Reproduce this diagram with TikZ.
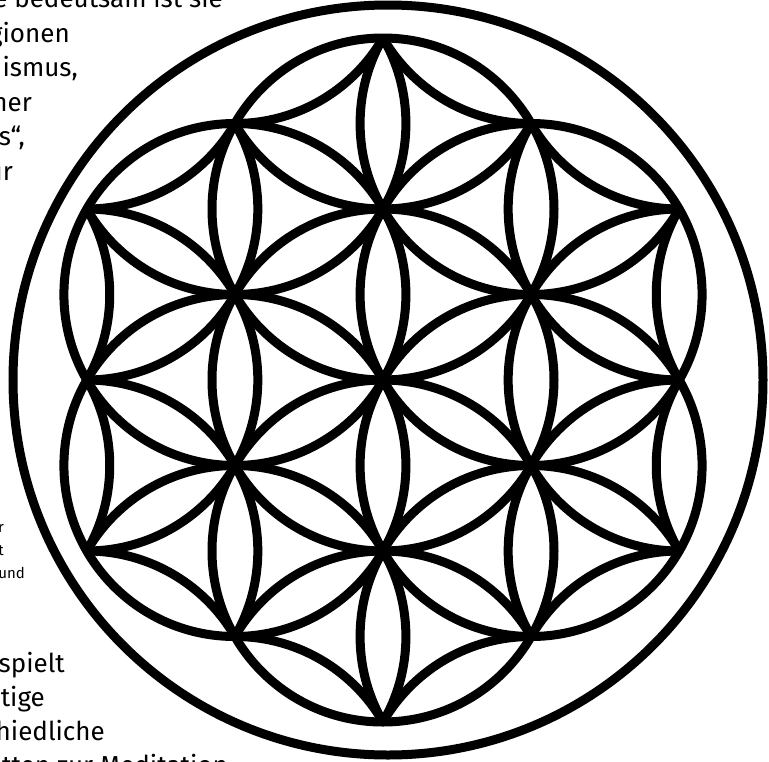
\documentclass[tikz,border=0pt]{standalone}
\usepackage{fontspec}
\setmainfont{Fira Sans}
\tikzset{
  petal/.style={line width=9pt, black},
  ring/.style={line width=9pt, black},
  bodytext/.style={inner sep=0pt, font=\fontsize{26}{32}\selectfont, anchor=base east},
  smalltext/.style={inner sep=0pt, font=\fontsize{15}{18}\selectfont, anchor=base east},
}
\begin{document}
\begin{tikzpicture}[x=1pt, y=-1pt]
  \useasboundingbox (0,0) rectangle (769,761);
  \clip (0,0) rectangle (769,761);
  % text around the picture
  \node[bodytext] (l0) at (223,7.5) {e bedeutsam ist sie};
  \node[bodytext] (l1) at (70,42) {gionen};
  \node[bodytext] (l2) at (78,76.5) {uismus,};
  \node[bodytext] (l3) at (32,111) {ner};
  \node[bodytext] (l4) at (25,145.5) {s“,};
  \node[bodytext] (l5) at (13,180) {ur};
  \node[smalltext] (s1) at (4,532) {r};
  \node[smalltext] (s2) at (4,555) {t};
  \node[smalltext] (s3) at (25,578) {und};
  \node[bodytext] (l6) at (65,672) {spielt};
  \node[bodytext] (l7) at (45,706) {tige};
  \node[bodytext] (l8) at (105,740) {hiedliche};
  \node[bodytext] (l9) at (228,774) {itten zur Meditation};
  % flower of life
  \draw[ring] (388,380) circle[radius=375];
  \begin{scope}[shift={(383,380)}]
    \def\r{171}
    \draw[petal] (0,0) circle[radius=\r];
    \foreach \a in {30,90,...,330}
      \draw[petal] (\a:\r) circle[radius=\r];
    % outer circles, only the parts inside the flower
    \begin{scope}
      \clip \foreach \a in {30,90,...,330} {(\a:\r) circle[radius=\r]};
      \foreach \a in {0,60,...,300}
        \draw[petal] (\a:{sqrt(3)*\r}) circle[radius=\r];
      \foreach \a in {30,90,...,330}
        \draw[petal] (\a:{2*\r}) circle[radius=\r];
      \foreach \a in {30,90,...,330}
        \foreach \s in {-19.107,19.107}
          \draw[petal] ({\a+\s}:{sqrt(7)*\r}) circle[radius=\r];
    \end{scope}
  \end{scope}
\end{tikzpicture}
\end{document}
